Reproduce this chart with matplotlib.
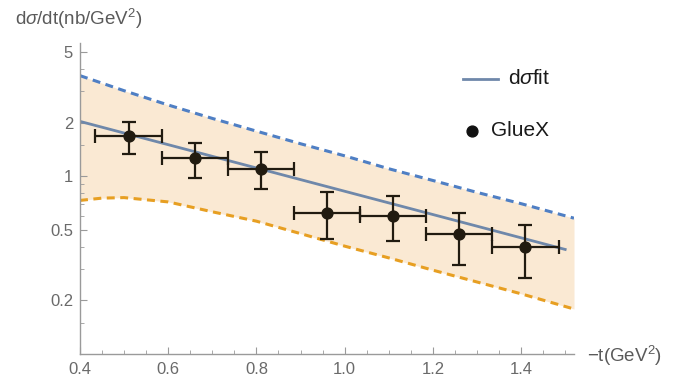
import matplotlib
matplotlib.use("Agg")
import matplotlib.pyplot as plt
from matplotlib.lines import Line2D
import numpy as np

plt.rcParams['font.family'] = ['Liberation Sans', 'DejaVu Sans']
plt.rcParams['mathtext.fontset'] = 'custom'
plt.rcParams['mathtext.rm'] = 'Liberation Sans'
plt.rcParams['mathtext.it'] = 'Liberation Sans:italic'

# GlueX points: -t bin centres, half bin width, cross section and error bar ends
t_data = [0.51, 0.66, 0.81, 0.96, 1.11, 1.26, 1.41]
t_halfwidth = [0.075, 0.075, 0.075, 0.075, 0.075, 0.075, 0.075]
xs_data = [1.68, 1.27, 1.10, 0.62, 0.60, 0.47, 0.40]
xs_hi = [2.01, 1.54, 1.36, 0.81, 0.77, 0.62, 0.533]
xs_lo = [1.33, 0.98, 0.85, 0.445, 0.43, 0.317, 0.266]

# fit line (straight on log scale)
fit_t = [0.4, 1.5]
fit_xs = [2.03, 0.387]

# uncertainty band
band_t = [0.4, 0.45, 0.5, 0.6, 0.7, 0.8, 0.9, 1.0, 1.1, 1.2, 1.3, 1.4, 1.52]
band_upper = [3.67, 3.33, 3.02, 2.51, 2.11, 1.79, 1.52, 1.30, 1.10, 0.945, 0.81, 0.70, 0.58]
band_lower = [0.73, 0.752, 0.757, 0.716, 0.63, 0.558, 0.475, 0.404, 0.347, 0.296, 0.254, 0.218, 0.179]

fig = plt.figure(figsize=(6.94, 3.81), dpi=100)
ax = fig.add_axes([80 / 694, 1 - 354 / 381, 494 / 694, 311 / 381])

ax.fill_between(band_t, band_lower, band_upper, color='#fae9d3', lw=0)
ax.plot(band_t, band_upper, color='#4f7fc4', lw=2.2, dashes=(2.6, 1.8))
ax.plot(band_t, band_lower, color='#e79f22', lw=2.2, dashes=(2.6, 1.8))
ax.plot(fit_t, fit_xs, color='#6f88aa', lw=2.0)

yerr = [np.array(xs_data) - np.array(xs_lo), np.array(xs_hi) - np.array(xs_data)]
ax.errorbar(t_data, xs_data, xerr=t_halfwidth, yerr=yerr, fmt='o', color='#211b10',
            ms=7.8, elinewidth=1.6, capsize=4.8, capthick=1.6, zorder=5)

ax.set_yscale('log')
ax.set_xlim(0.4, 1.52)
ax.set_ylim(0.1, 5.6)

ax.set_xticks([0.4, 0.6, 0.8, 1.0, 1.2, 1.4])
ax.set_xticklabels(['0.4', '0.6', '0.8', '1.0', '1.2', '1.4'])
ax.set_xticks(np.arange(0.45, 1.52, 0.05), minor=True)
ax.set_yticks([0.2, 0.5, 1, 2, 5])
ax.set_yticklabels(['0.2', '0.5', '1', '2', '5'])
ax.set_yticks([0.15, 0.3, 0.4, 0.6, 0.7, 0.8, 0.9, 1.5, 3, 4], minor=True)
ax.yaxis.set_minor_formatter(plt.NullFormatter())

for s in ['top', 'right']:
    ax.spines[s].set_visible(False)
for s in ['left', 'bottom']:
    ax.spines[s].set_color('#9a9a9a')
    ax.spines[s].set_linewidth(1.0)
ax.tick_params(which='both', direction='in', color='#9a9a9a', labelcolor='#6a6a6a',
               labelsize=12)
ax.tick_params(which='major', length=5)
ax.tick_params(which='minor', length=3)
ax.tick_params(axis='x', pad=6)
ax.tick_params(axis='y', pad=5)

fig.text(15 / 694, 1 - 19 / 381, r'd$\sigma$/dt(nb/GeV$^2$)', fontsize=13.5,
         color='#5a5a5a', va='center', ha='left')
fig.text(587 / 694, 1 - 356 / 381, r'$-$t(GeV$^2$)', fontsize=13.5,
         color='#5a5a5a', va='center', ha='left')

# legend drawn by hand
fig.add_artist(Line2D([463 / 694, 498 / 694], [1 - 79 / 381, 1 - 79 / 381],
                      transform=fig.transFigure, color='#6f88aa', lw=2.0))
fig.text(508 / 694, 1 - 79 / 381, r'd$\sigma$fit', fontsize=15, color='#1a1a1a',
         va='center', ha='left')
fig.add_artist(Line2D([472 / 694], [1 - 131 / 381], transform=fig.transFigure,
                      marker='o', ms=7.8, color='#111111', lw=0))
fig.text(491 / 694, 1 - 130 / 381, 'GlueX', fontsize=15, color='#1a1a1a',
         va='center', ha='left')

fig.savefig('out.png', dpi=100)
